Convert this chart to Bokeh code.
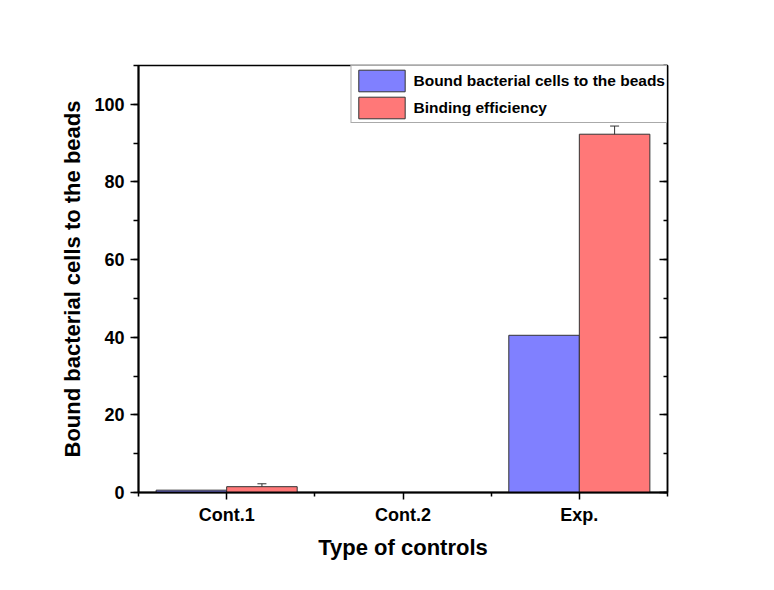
from bokeh.plotting import figure
from bokeh.models import (ColumnDataSource, LinearAxis, Range1d, FixedTicker,
                          SingleIntervalTicker, Whisker, TeeHead, Legend, LegendItem,
                          CustomJSTickFormatter)
from bokeh.transform import dodge
from bokeh.embed import file_html
from bokeh.resources import INLINE

# Data
categories = ["Cont.1", "Cont.2", "Exp."]
bound_cells = [0.6, 0.0, 40.5]
binding_eff = [1.5, 0.0, 92.3]
binding_err = [0.75, 0.0, 2.1]

FONT = "Liberation Sans"
BLUE = "#8080ff"
RED = "#ff7878"
EDGE = "#333333"

pos = list(range(1, len(categories) + 1))
src = ColumnDataSource(dict(x=pos, bound=bound_cells, eff=binding_eff))

p = figure(width=774, height=590, output_backend="svg", toolbar_location=None,
           x_range=Range1d(0.5, len(categories) + 0.5), y_range=Range1d(0, 110),
           x_axis_location=None, y_axis_location=None,
           min_border_left=138, min_border_right=107,
           min_border_top=65, min_border_bottom=98)
p.grid.visible = False
p.outline_line_color = "black"
p.outline_line_width = 1.5
p.background_fill_color = "white"
p.border_fill_color = "white"

# Bars: blue to the left of each category centre, red to the right
r_blue = p.vbar(x=dodge("x", -0.2), top="bound", width=0.4, source=src,
                fill_color=BLUE, line_color=EDGE, line_width=1)
r_red = p.vbar(x=dodge("x", 0.2), top="eff", width=0.4, source=src,
               fill_color=RED, line_color=EDGE, line_width=1)

# Error bars on the binding efficiency
src_err = ColumnDataSource(dict(
    x=[x + 0.2 for x, e in zip(pos, binding_err) if e > 0],
    upper=[v + e for v, e in zip(binding_eff, binding_err) if e > 0],
    lower=[v - e for v, e in zip(binding_eff, binding_err) if e > 0],
))
w = Whisker(base="x", upper="upper", lower="lower", source=src_err,
            line_color=EDGE, line_width=1,
            upper_head=TeeHead(size=9, line_color=EDGE, line_width=1),
            lower_head=TeeHead(size=9, line_color=EDGE, line_width=1))
p.add_layout(w)

# Bottom axis with category labels
xax = LinearAxis(ticker=FixedTicker(ticks=pos,
                                    minor_ticks=[x - 0.5 for x in pos] + [pos[-1] + 0.5]),
                 major_label_overrides={x: c for x, c in zip(pos, categories)})
xax.axis_label = "Type of controls"
p.add_layout(xax, "below")

# Left axis
yax = LinearAxis(ticker=SingleIntervalTicker(interval=20, num_minor_ticks=2))
yax.axis_label = "Bound bacterial cells to the beads"
p.add_layout(yax, "left")

# Right axis: inward ticks only, no labels
rax = LinearAxis(ticker=SingleIntervalTicker(interval=20, num_minor_ticks=2),
                 formatter=CustomJSTickFormatter(code="return ''"))
rax.major_tick_in = 8
rax.major_tick_out = 0
rax.minor_tick_in = 4
rax.minor_tick_out = 0
rax.major_label_standoff = 0
rax.axis_line_width = 1.5
rax.major_tick_line_width = 1.5
rax.minor_tick_line_width = 1.5
p.add_layout(rax, "right")

for ax in (xax, yax):
    ax.axis_line_width = 2
    ax.major_tick_line_width = 1.5
    ax.minor_tick_line_width = 1.5
    ax.major_tick_in = 0
    ax.minor_tick_in = 0
    ax.major_label_text_font = FONT
    ax.major_label_text_font_style = "bold"
    ax.major_label_text_font_size = "18px"
    ax.major_label_text_color = "black"
    ax.axis_label_text_font = FONT
    ax.axis_label_text_font_style = "bold"
    ax.axis_label_text_font_size = "22px"
    ax.axis_label_text_color = "black"

xax.major_tick_out = 7
xax.minor_tick_out = 4
xax.major_label_standoff = 5
xax.axis_label_standoff = 7
yax.major_tick_out = 8
yax.minor_tick_out = 5
yax.major_label_standoff = 6
yax.axis_label_standoff = 6

legend = Legend(items=[
    LegendItem(label="Bound bacterial cells to the beads", renderers=[r_blue]),
    LegendItem(label="Binding efficiency", renderers=[r_red]),
], location="top_right")
legend.margin = 0
legend.padding = 1
legend.spacing = 0
legend.glyph_width = 58
legend.glyph_height = 27
legend.label_standoff = 3
legend.label_text_font = FONT
legend.label_text_font_style = "bold"
legend.label_text_font_size = "15.5px"
legend.label_text_color = "black"
legend.border_line_color = "#555555"
legend.border_line_width = 1
legend.background_fill_alpha = 1
p.add_layout(legend, "center")

open("out.html", "w").write(file_html(p, INLINE))
